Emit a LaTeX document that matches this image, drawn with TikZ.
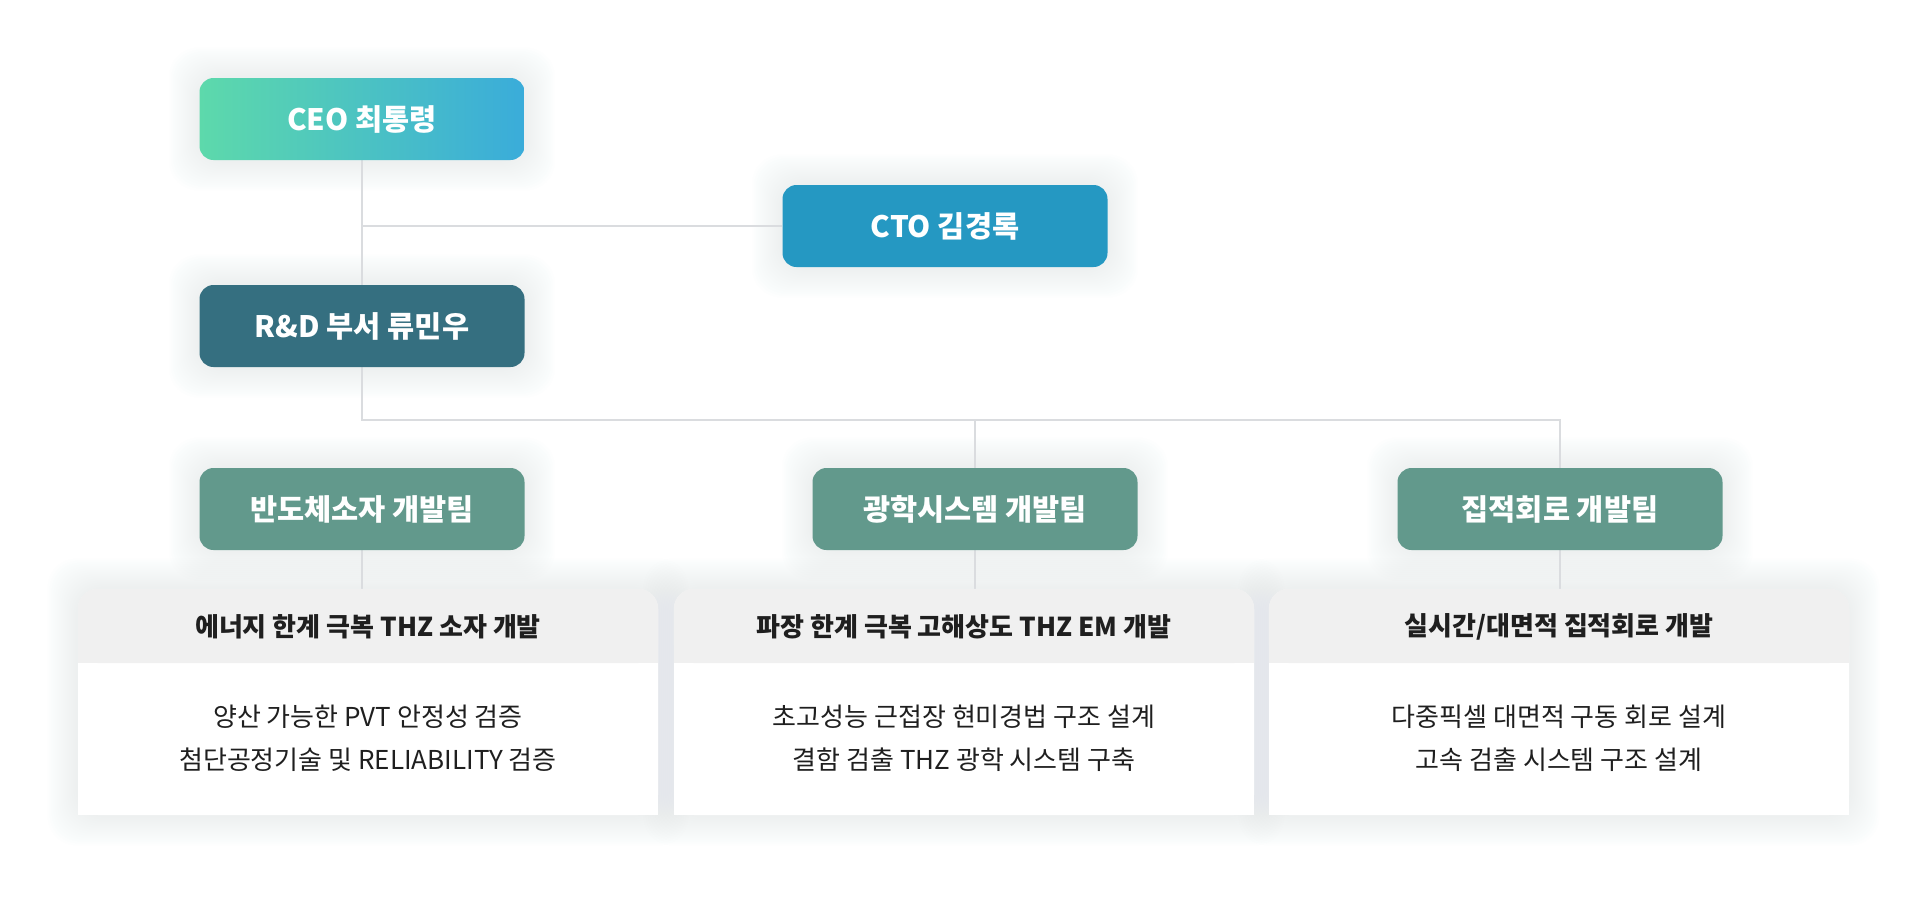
\documentclass[tikz,border=0pt]{standalone}
\usepackage{fontspec}
\setmainfont{Noto Sans CJK KR}
\usetikzlibrary{backgrounds}

\definecolor{ceoleft}{HTML}{5DD9AB}
\definecolor{ceoright}{HTML}{3AACDA}
\definecolor{ctoblue}{HTML}{2598C2}
\definecolor{rdteal}{HTML}{356F80}
\definecolor{teamgreen}{HTML}{62998C}
\definecolor{cardhead}{HTML}{F0F0F0}
\definecolor{linegray}{HTML}{DADCDF}
\definecolor{textdark}{HTML}{1F1F1F}
\definecolor{glowblue}{HTML}{D0E0EC}

% soft halo behind a named node
\newcommand{\glowbox}[1]{%
  \foreach \g in {2,4,...,30}
    \fill[glowblue, opacity=0.022, rounded corners=28pt]
      ([shift={(-\g,-\g)}]#1.north west) rectangle ([shift={(\g,\g)}]#1.south east);}

\begin{document}
\begin{tikzpicture}[x=1pt,y=-1pt,
  box/.style={rounded corners=14pt, minimum width=325pt, minimum height=82pt,
    inner sep=0pt, text=white, font=\fontsize{29.5}{34}\selectfont\bfseries},
  teambox/.style={box, fill=teamgreen},
  card/.style={rounded corners=20pt, fill=white, minimum width=580pt,
    minimum height=226pt, inner sep=0pt},
  headtext/.style={text=textdark, font=\fontsize{26}{30}\selectfont\bfseries},
  bodytext/.style={text=textdark, align=center, font=\fontsize{26}{43}\selectfont},
  link/.style={draw=linegray, line width=1.3pt}]
\useasboundingbox (0,0) rectangle (1920,906);

% people
\node[box, left color=ceoleft, right color=ceoright] (ceo) at (362,119) {CEO 최통령};
\node[box, fill=ctoblue] (cto) at (945,226) {CTO 김경록};
\node[box, fill=rdteal] (rd) at (362,326) {R\&D 부서 류민우};

% teams
\node[teambox] (team1) at (362,509) {반도체소자 개발팀};
\node[teambox] (team2) at (975,509) {광학시스템 개발팀};
\node[teambox] (team3) at (1560,509) {집적회로 개발팀};

% cards
\coordinate (hmid) at (0,630);
\coordinate (hbot) at (0,663);
\coordinate (bus) at (0,420);
\node[card] (card1) at (368,702) {};
\node[card] (card2) at (964,702) {};
\node[card] (card3) at (1559,702) {};
\foreach \c in {card1,card2,card3} {
  \fill[white] (\c.west) rectangle (\c.south east);
  \fill[cardhead, rounded corners=20pt] (\c.north west) rectangle (\c.east |- hbot);
  \fill[cardhead] (\c.west |- hmid) rectangle (\c.east |- hbot);
}

\node[headtext] (head1) at (368,627) {에너지 한계 극복 THZ 소자 개발};
\node[headtext] (head2) at (964,627) {파장 한계 극복 고해상도 THZ EM 개발};
\node[headtext] (head3) at (1559,627) {실시간/대면적 집적회로 개발};

\node[bodytext] (body1) at (368,738) {양산 가능한 PVT 안정성 검증\\첨단공정기술 및 RELIABILITY 검증};
\node[bodytext] (body2) at (964,738) {초고성능 근접장 현미경법 구조 설계\\결함 검출 THZ 광학 시스템 구축};
\node[bodytext] (body3) at (1559,738) {다중픽셀 대면적 구동 회로 설계\\고속 검출 시스템 구조 설계};

\begin{pgfonlayer}{background}
\fill[white] (0,0) rectangle (1920,906);
\foreach \n in {ceo,cto,rd,team1,team2,team3,card1,card2,card3}
  \glowbox{\n}
\draw[link] (ceo.south) -- (rd.north);
\draw[link] (cto.west) -- (cto.west -| ceo.south);
\draw[link] (rd.south) -- (rd.south |- bus) -- (team3.north |- bus) -- (team3.north);
\draw[link] (team2.north |- bus) -- (team2.north);
\draw[link] (team1.south) -- (team1.south |- card1.north);
\draw[link] (team2.south) -- (team2.south |- card2.north);
\draw[link] (team3.south) -- (team3.south |- card3.north);
\end{pgfonlayer}
\end{tikzpicture}
\end{document}
